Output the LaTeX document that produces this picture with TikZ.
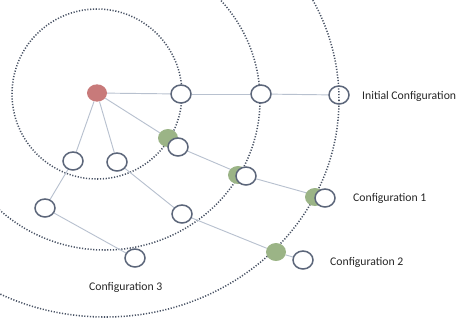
\documentclass[tikz,border=0pt]{standalone}
\usepackage{fontspec}
\setmainfont{Carlito}
\usepackage{tikz}
\usetikzlibrary{shapes.geometric}
\usetikzlibrary{backgrounds}
\definecolor{ringgray}{RGB}{72,82,100}
\definecolor{nodegray}{RGB}{92,102,122}
\definecolor{linkgray}{RGB}{184,193,207}
\definecolor{rootred}{RGB}{200,122,122}
\definecolor{pickgreen}{RGB}{155,180,134}
\tikzstyle{config}=[ellipse, draw=nodegray, line width=1.3pt, fill=white, minimum width=0.6cm, minimum height=0.54cm, inner sep=0pt]
\tikzstyle{rootnode}=[ellipse, fill=rootred, minimum width=0.6cm, minimum height=0.52cm, inner sep=0pt]
\tikzstyle{picked}=[ellipse, fill=pickgreen, minimum width=0.6cm, minimum height=0.54cm, inner sep=0pt]
\tikzstyle{ring}=[ringgray, line width=1.3pt, dash pattern=on 1pt off 1.4pt]
\tikzstyle{link}=[linkgray, line width=0.8pt]
\tikzstyle{conflabel}=[anchor=west, inner sep=0pt, text=black!85, font=\fontsize{10}{12}\selectfont]

\begin{document}
\begin{tikzpicture}[x=0.03cm, y=-0.03cm]
      \useasboundingbox (0,0) rectangle (458,324);

      \node[rootnode] (root) at (97,93) {};
      \node[config] (top1) at (181,94) {};
      \node[config] (top2) at (261,94) {};
      \node[config, fill=none] (top3) at (339,95) {};
      \node[config] (left1) at (73,161) {};
      \node[config] (left2) at (117,162) {};
      \node[config] (low1) at (45,208) {};
      \node[config] (low2) at (135,258) {};
      \node[config] (mid) at (182,214) {};

      \node[picked] (pick1) at (168,138) {};
      \node[config] (next1) at (178,147) {};
      \node[picked] (pick2) at (238,175) {};
      \node[config] (next2) at (246,176) {};
      \node[picked] (pick3) at (315,197) {};
      \node[config] (next3) at (325,198) {};
      \node[picked] (pick4) at (276,252) {};
      \node[config] (next4) at (303,260) {};

      \node[conflabel] (initLabel) at (362,96) {Initial Configuration};
      \node[conflabel] (conf1Label) at (353,198) {Configuration 1};
      \node[conflabel] (conf2Label) at (330,262) {Configuration 2};
      \node[conflabel] (conf3Label) at (89,287) {Configuration 3};

      \begin{scope}[on background layer]
        % search rings
        \clip (0,0) rectangle (458,324);
        \draw[ring] (97,94) circle [radius=85];
        \draw[ring] (105,100) ellipse [x radius=155, y radius=150];
        \draw[ring] (105,100) ellipse [x radius=234, y radius=217];

        \foreach \a/\b in {root/top1, top1/top2, top2/top3, root/pick1, next1/next2, next2/next3,
                           root/left1, root/left2, left1/low1, low1/low2, left2/mid, mid/pick4, pick4/next4}{
          \draw[link] (\a) -- (\b);
        }
      \end{scope}

    \end{tikzpicture}
\end{document}
